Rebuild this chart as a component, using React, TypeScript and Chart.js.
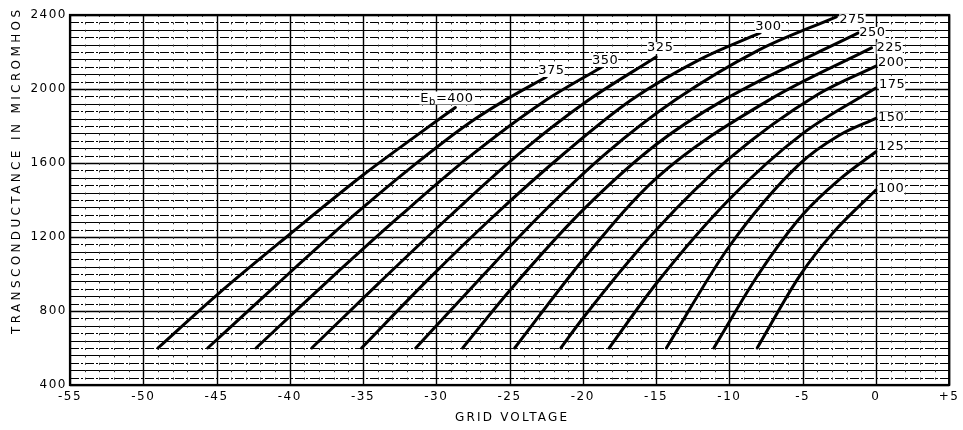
import React, { useEffect, useRef } from "react";
import { Chart, registerables } from "chart.js";

Chart.register(...registerables);

// ---- axes ----
const xMin = -55;
const xMax = 5;
const xStep = 5;
const yMin = 400;
const yMax = 2400;
const yStep = 400;
const minorVoltStep = 1;
const minorGmStep = 40;
const xTitle = "GRID VOLTAGE";
const yTitle = "TRANSCONDUCTANCE IN MICROMHOS";

// ---- curves: plate voltage Eb, grid voltage (V), transconductance (micromhos) ----
const plateVoltages = [400, 375, 350, 325, 300, 275, 250, 225, 200, 175, 150, 125, 100];

const gv400 = [-49.0, -45.0, -40.0, -35.0, -31.5, -28.7];
const gm400 = [600, 885, 1215, 1535, 1740, 1900];

const gv375 = [-45.6, -41.0, -35.6, -31.5, -27.8, -25.3, -22.5];
const gm375 = [600, 935, 1319, 1590, 1814, 1940, 2065];

const gv350 = [-42.3, -37.5, -32.4, -27.8, -22.7, -18.7];
const gm350 = [600, 955, 1319, 1630, 1930, 2119];

const gv325 = [-38.5, -33.8, -29.0, -24.2, -19.8, -15.0];
const gm325 = [600, 960, 1319, 1660, 1930, 2173];

const gv300 = [-35.1, -30.5, -26.0, -21.3, -16.7, -12.0, -7.9];
const gm300 = [600, 975, 1319, 1650, 1940, 2160, 2303];

const gv275 = [-31.4, -27.2, -22.9, -18.3, -13.7, -8.0, -2.7];
const gm275 = [600, 960, 1319, 1660, 1940, 2210, 2390];

const gv250 = [-28.2, -25.0, -20.0, -15.0, -10.4, -1.2];
const gm250 = [600, 910, 1345, 1700, 1940, 2303];

const gv225 = [-24.65, -20.0, -15.0, -7.3, -0.3];
const gm225 = [600, 1076, 1517, 1940, 2222];

const gv200 = [-21.5, -20.0, -15.0, -10.0, -4.0, 0];
const gm200 = [600, 761, 1238, 1625, 1969, 2124];

const gv175 = [-18.2, -15.0, -10.0, -5.0, 0];
const gm175 = [600, 947, 1404, 1759, 2005];

const gv150 = [-14.3, -10.0, -5.2, -2.5, 0];
const gm150 = [600, 1150, 1595, 1750, 1841];

const gv125 = [-11.06, -8.0, -5.0, -2.5, 0];
const gm125 = [600, 1000, 1320, 1510, 1661];

const gv100 = [-8.1, -5.2, -2.9, 0];
const gm100 = [600, 990, 1225, 1454];

const curveX = [gv400, gv375, gv350, gv325, gv300, gv275, gv250, gv225, gv200, gv175, gv150, gv125, gv100];
const curveY = [gm400, gm375, gm350, gm325, gm300, gm275, gm250, gm225, gm200, gm175, gm150, gm125, gm100];

// label offsets (pixels) relative to each curve's end point
const labelOffsets: [number, number][] = [
  [-35, -9], [-8, -6], [-10, -6], [-9, -9], [-5, -6], [3, 3], [1, 0],
  [5, 0], [2, -3], [3, -3], [2, -1], [2, -5], [2, -1],
];

const FONT = '"DejaVu Sans", "Liberation Sans", sans-serif';

function drawSpaced(ctx: CanvasRenderingContext2D, text: string, cx: number, cy: number, targetWidth: number) {
  ctx.letterSpacing = "0px";
  const natural = ctx.measureText(text).width;
  const sp = (targetWidth - natural) / Math.max(1, text.length - 1);
  ctx.letterSpacing = sp + "px";
  ctx.textAlign = "left";
  ctx.textBaseline = "middle";
  ctx.fillText(text, cx - targetWidth / 2, cy);
  ctx.letterSpacing = "0px";
}

const paperPlugin = {
  id: "paper",
  beforeDraw(chart: any) {
    const ctx = chart.ctx as CanvasRenderingContext2D;
    ctx.save();
    ctx.fillStyle = "#fff";
    ctx.fillRect(0, 0, chart.width, chart.height);
    ctx.restore();
    ctx.letterSpacing = "1.5px";
  },
  beforeDatasetsDraw(chart: any) {
    const ctx = chart.ctx as CanvasRenderingContext2D;
    const a = chart.chartArea;
    const xs = chart.scales.x;
    const ys = chart.scales.y;
    ctx.save();
    ctx.letterSpacing = "0px";
    // horizontal rulings
    let i = 0;
    for (let g = yMin; g <= yMax + 0.001; g += minorGmStep, i++) {
      const py = Math.round(ys.getPixelForValue(g)) + 0.5;
      const major = Math.abs(g % yStep) < 0.001;
      ctx.beginPath();
      ctx.strokeStyle = "#000";
      ctx.lineWidth = major ? 1.6 : 1;
      ctx.setLineDash(major || i % 2 === 0 ? [] : [9, 2, 2, 2]);
      ctx.moveTo(a.left, py);
      ctx.lineTo(a.right, py);
      ctx.stroke();
    }
    // vertical rulings
    for (let v = xMin; v <= xMax + 0.001; v += minorVoltStep) {
      const px = Math.round(xs.getPixelForValue(v)) + 0.5;
      const major = Math.abs(v % xStep) < 0.001;
      ctx.beginPath();
      ctx.strokeStyle = major ? "#000" : "#333";
      ctx.lineWidth = major ? 1.4 : 1;
      ctx.setLineDash(major ? [] : [2, 5.4]);
      ctx.moveTo(px, a.top);
      ctx.lineTo(px, a.bottom);
      ctx.stroke();
    }
    ctx.setLineDash([]);
    ctx.lineWidth = 2.2;
    ctx.strokeStyle = "#000";
    ctx.strokeRect(a.left, a.top, a.right - a.left, a.bottom - a.top);
    ctx.restore();
  },
  afterDatasetsDraw(chart: any) {
    const ctx = chart.ctx as CanvasRenderingContext2D;
    ctx.save();
    ctx.letterSpacing = "0.5px";
    ctx.textBaseline = "middle";
    ctx.textAlign = "left";
    plateVoltages.forEach((eb, di) => {
      const meta = chart.getDatasetMeta(di);
      const last = meta.data[meta.data.length - 1];
      const [dx, dy] = labelOffsets[di];
      const x = last.x + dx;
      const y = last.y + dy;
      ctx.font = `13px ${FONT}`;
      if (di === 0) {
        const wE = ctx.measureText("E").width;
        ctx.font = `10px ${FONT}`;
        const wb = ctx.measureText("b").width;
        ctx.font = `13px ${FONT}`;
        const wr = ctx.measureText("=" + eb).width;
        ctx.fillStyle = "#fff";
        ctx.fillRect(x - 1, y - 7, wE + wb + wr + 2, 13);
        ctx.fillStyle = "#000";
        ctx.fillText("E", x, y);
        ctx.font = `10px ${FONT}`;
        ctx.fillText("b", x + wE, y + 4);
        ctx.font = `13px ${FONT}`;
        ctx.fillText("=" + eb, x + wE + wb, y);
      } else {
        const t = String(eb);
        const w = ctx.measureText(t).width;
        ctx.fillStyle = "#fff";
        ctx.fillRect(x, y - 6, w, 12);
        ctx.fillStyle = "#000";
        ctx.fillText(t, x, y);
      }
    });
    ctx.restore();
  },
  afterDraw(chart: any) {
    const ctx = chart.ctx as CanvasRenderingContext2D;
    ctx.save();
    ctx.fillStyle = "#000";
    ctx.font = `12px ${FONT}`;
    drawSpaced(ctx, xTitle, 511, 418, 112);
    ctx.translate(17, 172);
    ctx.rotate(-Math.PI / 2);
    drawSpaced(ctx, yTitle, 0, 0, 324);
    ctx.restore();
    ctx.letterSpacing = "0px";
  },
};

export default function App() {
  const ref = useRef<HTMLCanvasElement | null>(null);
  useEffect(() => {
    document.body.style.margin = "0";
    const canvas = ref.current!;
    const datasets = curveX.map((xs, i) => ({
      label: "Eb=" + plateVoltages[i],
      data: xs.map((x, j) => ({ x, y: curveY[i][j] })),
      borderColor: "#000",
      borderWidth: 3,
      pointRadius: 0,
      fill: false,
      cubicInterpolationMode: "monotone" as const,
      borderCapStyle: "round" as const,
    }));
    const chart = new Chart(canvas, {
      type: "line",
      data: { datasets },
      options: {
        responsive: false,
        animation: false,
        layout: { padding: { top: 15, right: 10, left: 0, bottom: 0 } },
        plugins: { legend: { display: false }, tooltip: { enabled: false } },
        scales: {
          x: {
            type: "linear",
            min: xMin,
            max: xMax,
            grid: { display: false, drawTicks: false },
            border: { display: false },
            afterFit: (s: any) => { s.height = 45; },
            ticks: {
              stepSize: xStep,
              padding: 5,
              color: "#000",
              font: { family: FONT, size: 12 },
              maxRotation: 0,
              callback: (v: any) => (Number(v) > 0 ? "+" + v : String(v)),
            },
          },
          y: {
            type: "linear",
            min: yMin,
            max: yMax,
            grid: { display: false, drawTicks: false },
            border: { display: false },
            afterFit: (s: any) => { s.width = 70; },
            ticks: {
              stepSize: yStep,
              padding: 3,
              color: "#000",
              font: { family: FONT, size: 12 },
              callback: (v: any) => String(v),
            },
          },
        },
      },
      plugins: [paperPlugin],
    });
    return () => chart.destroy();
  }, []);
  return (
    <div style={{ width: 963, height: 430 }}>
      <canvas ref={ref} width={963} height={430} />
    </div>
  );
}
